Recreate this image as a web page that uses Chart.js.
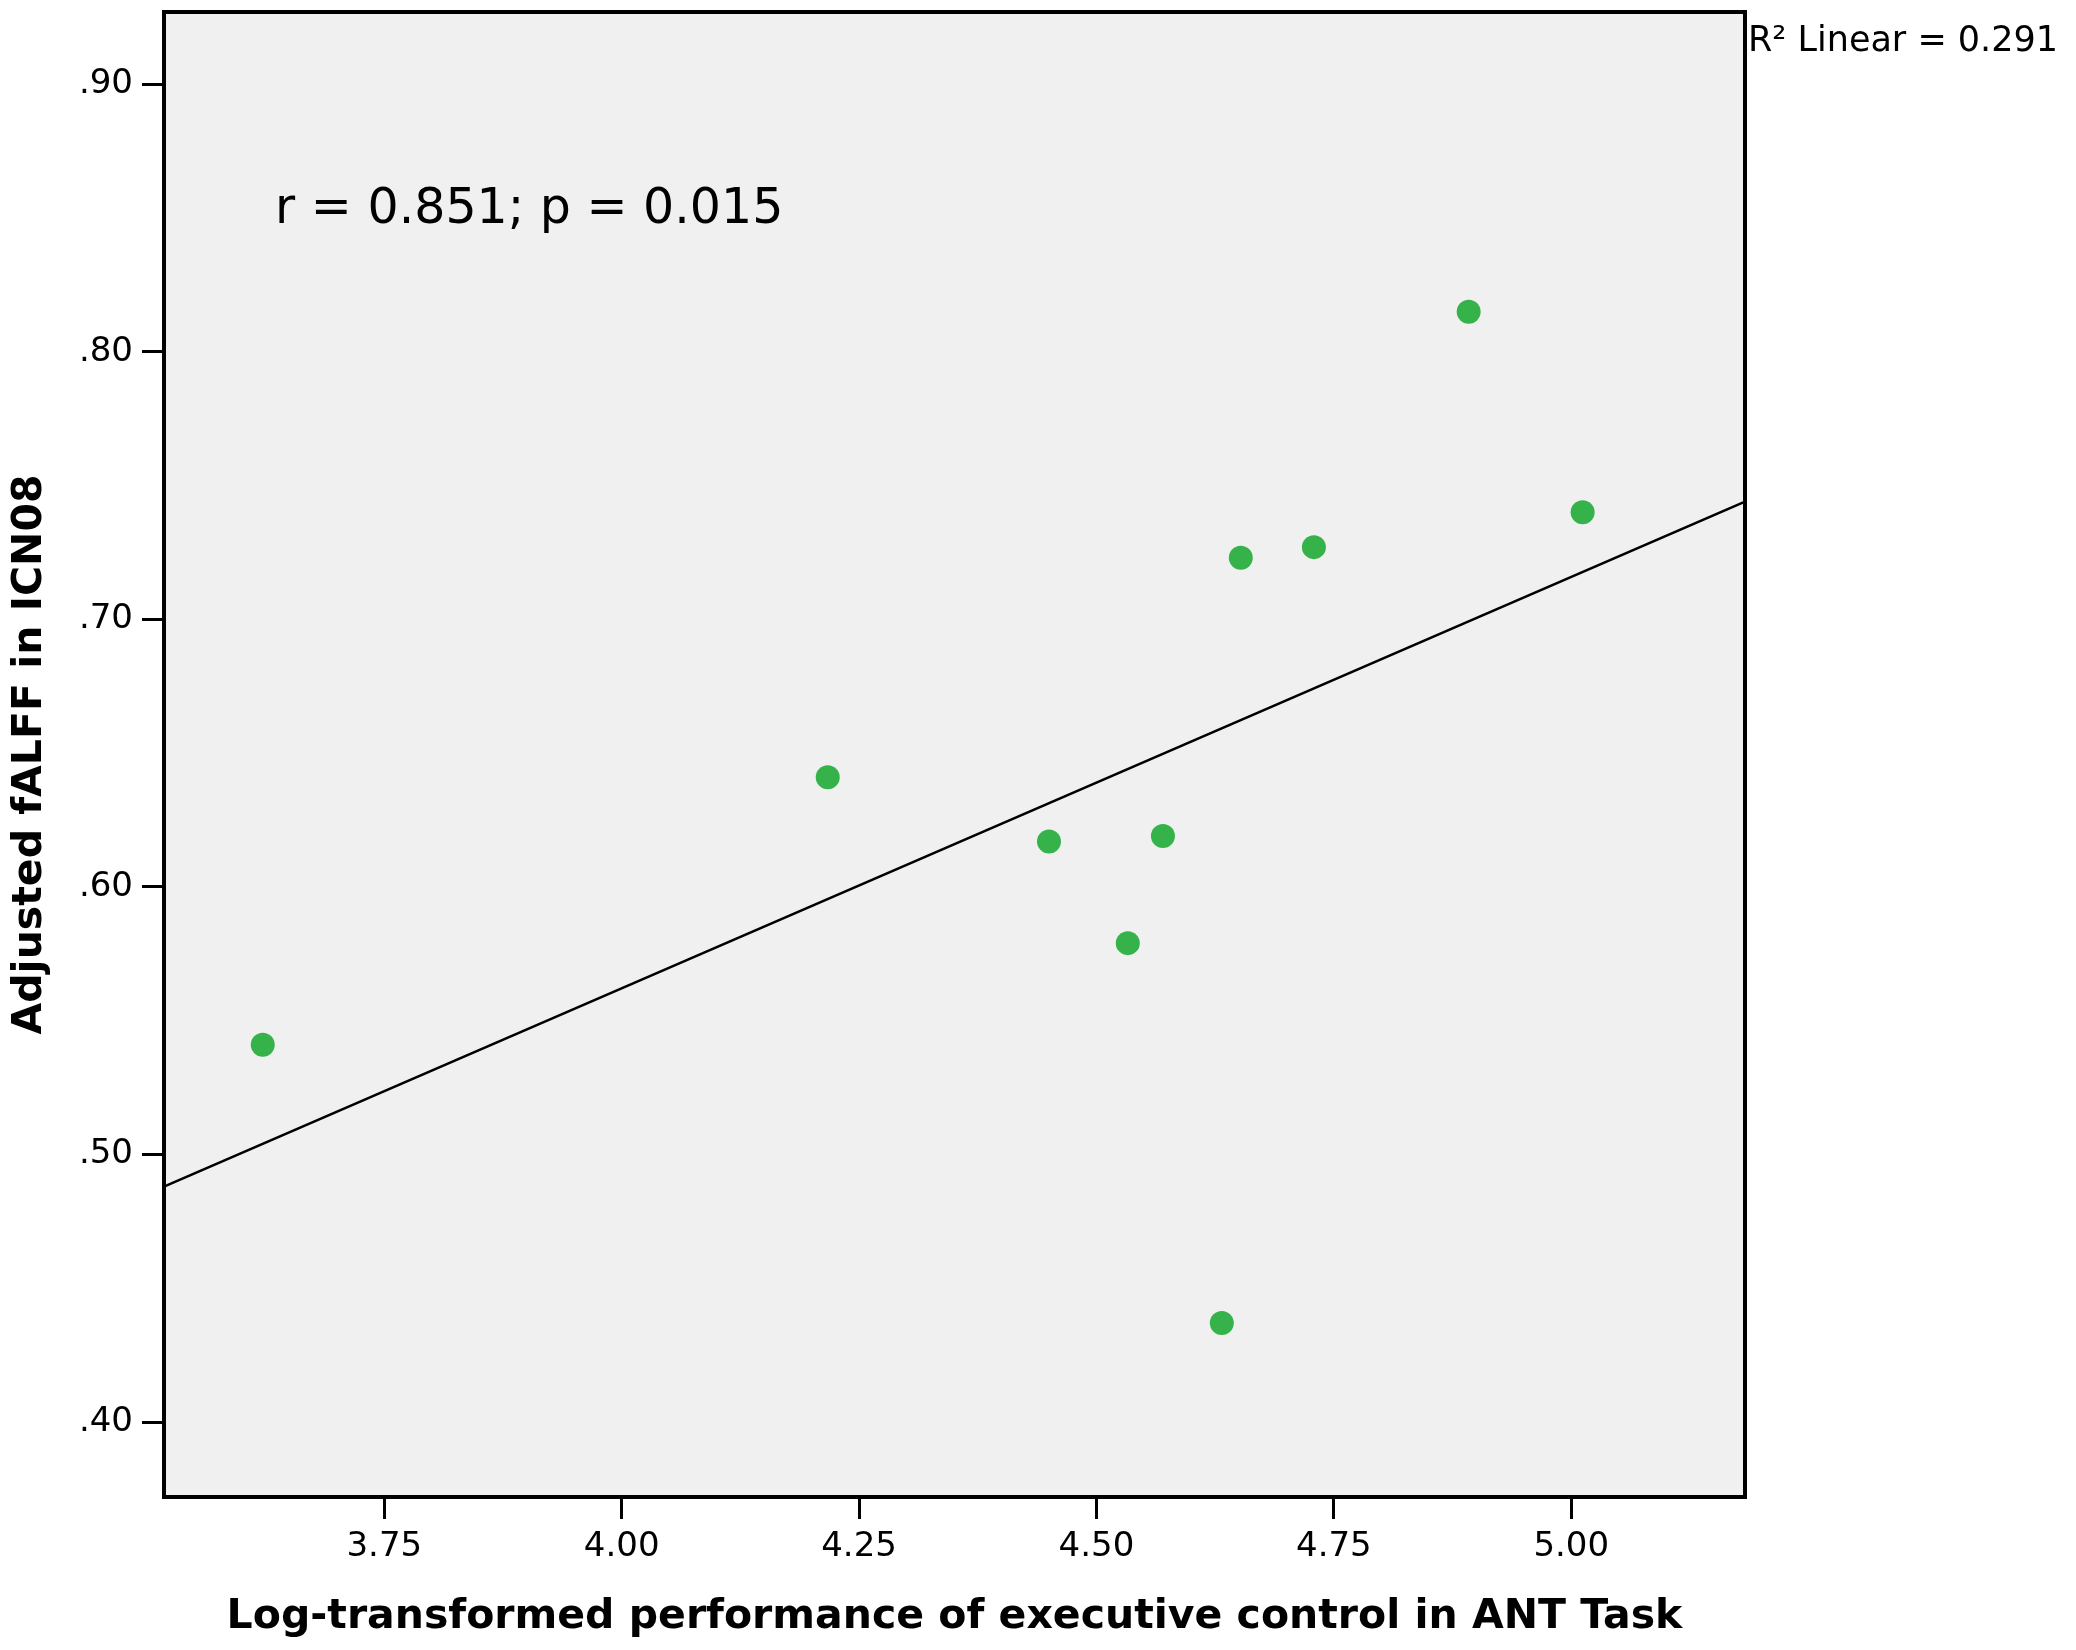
<!DOCTYPE html>
<html>
<head>
<meta charset="utf-8">
<script src="https://cdn.jsdelivr.net/npm/chart.js@4"></script>
<style>
  html, body { margin: 0; padding: 0; background: #fff; }
  #wrap { width: 2076px; height: 1650px; }
</style>
</head>
<body>
<div id="wrap"><canvas id="scatter" width="2076" height="1650"></canvas></div>
<script>
// values
var execControl = [3.622, 4.217, 4.450, 4.533, 4.570, 4.652, 4.729, 4.632, 4.892, 5.012];
var falff       = [0.541, 0.641, 0.617, 0.579, 0.619, 0.723, 0.727, 0.437, 0.815, 0.740];
var fitX = [3.518, 5.183];
var fitY = [0.488, 0.744];
var xTicks = [3.75, 4.00, 4.25, 4.50, 4.75, 5.00];
var yTicks = [0.40, 0.50, 0.60, 0.70, 0.80, 0.90];
var statText = 'r = 0.851; p = 0.015';
var statPos = [3.635, 0.853];
var legendText = 'R\u00B2 Linear = 0.291';

var points = execControl.map(function (x, i) { return { x: x, y: falff[i] }; });
var fitLine = fitX.map(function (x, i) { return { x: x, y: fitY[i] }; });

var plotFrame = {
    id: 'plotFrame',
    beforeDatasetsDraw: function (chart) {
        var a = chart.chartArea, ctx = chart.ctx;
        ctx.save();
        ctx.fillStyle = '#f0f0f0';
        ctx.fillRect(a.left, a.top, a.right - a.left, a.bottom - a.top);
        ctx.restore();
    },
    afterDraw: function (chart) {
        var a = chart.chartArea, ctx = chart.ctx;
        var xs = chart.scales.x, ys = chart.scales.y;
        ctx.save();
        ctx.strokeStyle = '#000';
        ctx.lineWidth = 4;
        ctx.strokeRect(a.left, a.top, a.right - a.left, a.bottom - a.top);
        ctx.fillStyle = '#000';
        ctx.textBaseline = 'middle';
        ctx.textAlign = 'left';
        ctx.font = '49px "DejaVu Sans"';
        ctx.fillText(statText, xs.getPixelForValue(statPos[0]), ys.getPixelForValue(statPos[1]));
        ctx.font = '35px "DejaVu Sans"';
        ctx.fillText(legendText, a.right + 3, a.top + 30);
        ctx.restore();
    }
};

var ctx = document.getElementById('scatter').getContext('2d');
var myChart = new Chart(ctx, {
    type: 'scatter',
    data: {
        datasets: [{
            data: points,
            backgroundColor: '#35b34a',
            borderWidth: 0,
            pointRadius: 12,
            order: 1
        }, {
            type: 'line',
            data: fitLine,
            borderColor: '#000',
            borderWidth: 2.5,
            pointRadius: 0,
            fill: false,
            order: 2
        }]
    },
    options: {
        responsive: false,
        animation: false,
        devicePixelRatio: 1,
        layout: { padding: { top: 10, right: 331, left: 0, bottom: 0 } },
        plugins: { legend: { display: false }, tooltip: { enabled: false } },
        scales: {
            x: {
                type: 'linear',
                min: 3.518,
                max: 5.183,
                afterBuildTicks: function (s) { s.ticks = xTicks.map(function (v) { return { value: v }; }); },
                afterFit: function (s) { s.height = 153; s.paddingLeft = 0; s.paddingRight = 0; },
                grid: { drawOnChartArea: false, drawTicks: true, tickLength: 22, tickColor: '#000', tickWidth: 3 },
                border: { display: true, color: '#000', width: 4 },
                ticks: {
                    color: '#000',
                    padding: 8,
                    maxRotation: 0,
                    font: { family: 'DejaVu Sans', size: 34 },
                    callback: function (v) { return v.toFixed(2); }
                },
                title: {
                    display: true,
                    text: 'Log-transformed performance of executive control in ANT Task',
                    color: '#000',
                    font: { family: 'DejaVu Sans', size: 41, weight: 'bold' },
                    padding: { top: 0, bottom: 8 }
                }
            },
            y: {
                type: 'linear',
                min: 0.372,
                max: 0.927,
                afterBuildTicks: function (s) { s.ticks = yTicks.map(function (v) { return { value: v }; }); },
                afterFit: function (s) { s.width = 164; s.paddingTop = 0; s.paddingBottom = 0; },
                grid: { drawOnChartArea: false, drawTicks: true, tickLength: 22, tickColor: '#000', tickWidth: 3 },
                border: { display: true, color: '#000', width: 4 },
                ticks: {
                    color: '#000',
                    padding: 9,
                    font: { family: 'DejaVu Sans', size: 34 },
                    callback: function (v) { return v.toFixed(2).replace(/^0/, ''); }
                },
                title: {
                    display: true,
                    text: 'Adjusted fALFF in ICN08',
                    color: '#000',
                    font: { family: 'DejaVu Sans', size: 41, weight: 'bold' },
                    padding: { top: 6, bottom: 0 }
                }
            }
        }
    },
    plugins: [plotFrame]
});
</script>
</body>
</html>
